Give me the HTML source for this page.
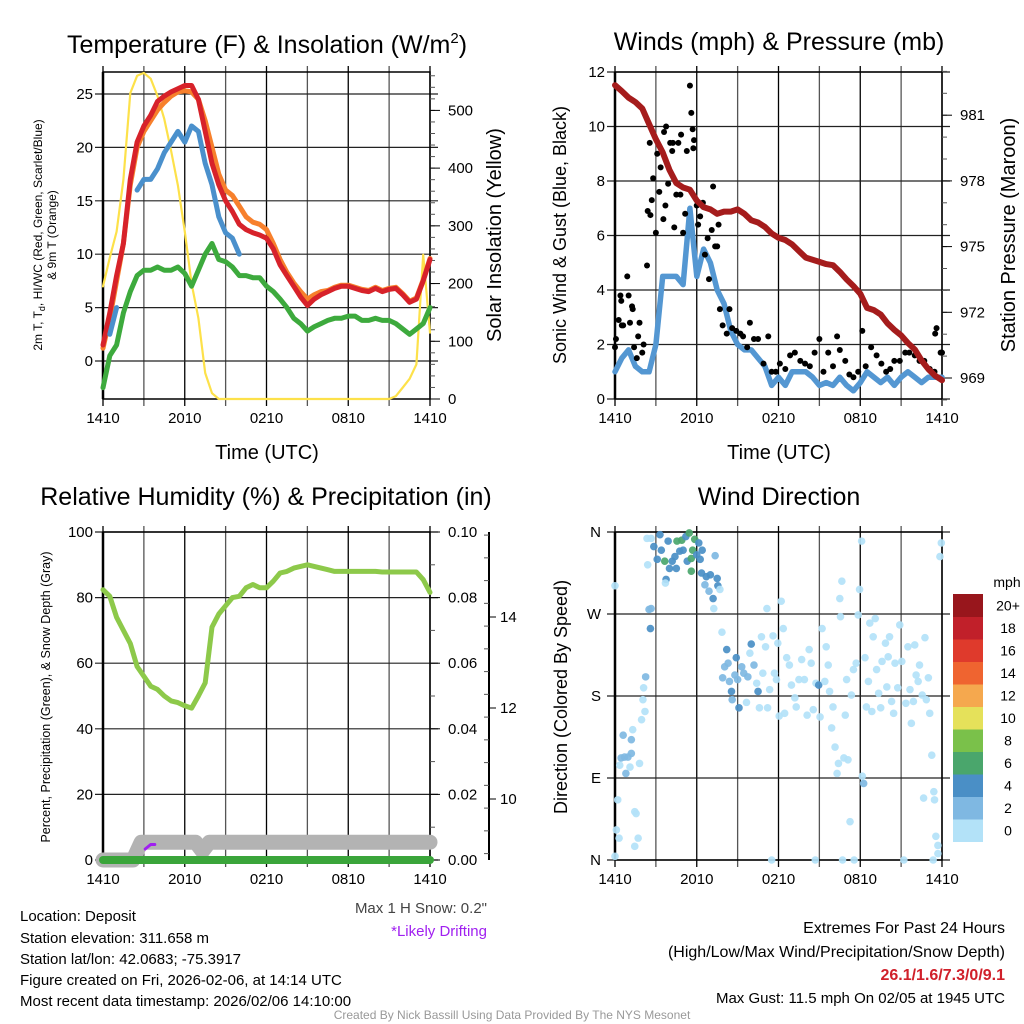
<!DOCTYPE html>
<html><head><meta charset="utf-8">
<style>
html,body{margin:0;padding:0;background:#fff;}
svg{display:block;font-family:"Liberation Sans",sans-serif;}
</style></head>
<body>
<svg id="c" width="1024" height="1024" viewBox="0 0 1024 1024" xmlns="http://www.w3.org/2000/svg">
<rect width="1024" height="1024" fill="#fff"/>
<text x="267" y="53" font-size="25" text-anchor="middle">Temperature (F) &amp; Insolation (W/m<tspan font-size="15" dy="-10">2</tspan><tspan dy="10">)</tspan></text>
<text x="779" y="50" font-size="25" text-anchor="middle">Winds (mph) &amp; Pressure (mb)</text>
<text x="266" y="505" font-size="25" text-anchor="middle">Relative Humidity (%) &amp; Precipitation (in)</text>
<text x="779" y="505" font-size="25" text-anchor="middle">Wind Direction</text>

<text x="267" y="459" font-size="20" text-anchor="middle">Time (UTC)</text>
<text x="779" y="459" font-size="20" text-anchor="middle">Time (UTC)</text>
<text transform="translate(42,235) rotate(-90)" font-size="12" text-anchor="middle"><tspan x="0" dy="0">2m T, T<tspan font-size="9" dy="3">d</tspan><tspan dy="-3">, HI/WC (Red, Green, Scarlet/Blue)</tspan></tspan><tspan x="0" dy="14">&amp; 9m T (Orange)</tspan></text>
<text transform="translate(501,235) rotate(-90)" font-size="20" text-anchor="middle">Solar Insolation (Yellow)</text>
<text transform="translate(566,235) rotate(-90)" font-size="18" text-anchor="middle">Sonic Wind &amp; Gust (Blue, Black)</text>
<text transform="translate(1015,235) rotate(-90)" font-size="20" text-anchor="middle">Station Pressure (Maroon)</text>
<text transform="translate(50,697) rotate(-90)" font-size="12.5" text-anchor="middle">Percent, Precipitation (Green), &amp; Snow Depth (Gray)</text>
<text transform="translate(567,697) rotate(-90)" font-size="18" text-anchor="middle">Direction (Colored By Speed)</text>

<g font-size="15">
<text x="20" y="921">Location: Deposit</text>
<text x="20" y="943">Station elevation: 311.658 m</text>
<text x="20" y="964">Station lat/lon: 42.0683; -75.3917</text>
<text x="20" y="985">Figure created on Fri, 2026-02-06, at 14:14 UTC</text>
<text x="20" y="1006">Most recent data timestamp: 2026/02/06 14:10:00</text>
</g>
<text x="487" y="913" font-size="15" fill="#444" text-anchor="end">Max 1 H Snow: 0.2"</text>
<text x="487" y="936" font-size="15" fill="#a020f0" text-anchor="end">*Likely Drifting</text>
<text x="1005" y="933" font-size="16" text-anchor="end">Extremes For Past 24 Hours</text>
<text x="1005" y="957" font-size="16" text-anchor="end">(High/Low/Max Wind/Precipitation/Snow Depth)</text>
<text x="1005" y="980" font-size="16" font-weight="bold" fill="#d0202a" text-anchor="end">26.1/1.6/7.3/0/9.1</text>
<text x="1005" y="1003" font-size="15" text-anchor="end">Max Gust: 11.5 mph On 02/05 at 1945 UTC</text>
<text x="512" y="1019" font-size="12" fill="#999" text-anchor="middle">Created By Nick Bassill Using Data Provided By The NYS Mesonet</text>
</svg>
<script>
// ---- data (half-hourly, hours 0..24 from 1410 UTC) ----
const xTickLabels = ["1410","2010","0210","0810","1410"];
const tempRed = [1.5,4.5,8,11,17,20.5,22,23,24.3,24.8,25.2,25.5,25.8,25.8,24.5,21.5,18.5,16.5,15,14,12.8,12.3,12,11.8,11.5,10.5,9,8,7,6,5.2,5.8,6.2,6.5,6.8,7,7,6.8,6.6,6.5,6.8,6.5,6.7,6.8,6.2,5.5,5.8,7.5,9.5];
const tempOrange = [1.2,4,7.5,11,16.5,20,21.5,22.5,23.5,24.2,24.8,25.2,25.3,25.2,24.5,22.5,20,17.5,16,15.5,14.5,13.5,13,12.8,12.3,11,9.5,8.3,7.3,6.5,5.8,6.2,6.5,6.6,6.9,7.1,7.1,6.9,6.7,6.6,6.9,6.6,6.8,6.9,6.3,5.6,5.9,7.6,9.6];
const tempBlue = [null,2.5,5,null,null,16,17,17,18,19.5,20.5,21.5,20.5,22,21.5,18.5,16.5,13.5,12,11.5,10,null,null,null,null,null,null,null,null,null,null,null,null,null,null,null,null,null,null,null,null,null,null,null,null,null,null,null,null];
const dewGreen = [-2.5,0.5,1.5,4.5,6.5,8,8.5,8.5,8.8,8.5,8.5,8.8,8.2,7,8.5,10,11,9.5,9.3,8.8,8,8,7.8,7.8,7,6.5,5.8,5,4,3.5,2.8,3.2,3.5,3.8,4,4,4.2,4.2,3.8,3.8,4,3.8,3.8,3.5,3,2.5,3,3.5,5];
const solar = [195,245,290,380,530,560,565,555,525,485,430,370,290,200,140,45,10,0,0,0,0,0,0,0,0,0,0,0,0,0,0,0,0,0,0,0,0,0,0,0,0,0,0,5,20,35,60,250,115];
const pressure = [982.37,982.1,981.8,981.6,981.3,980.6,979.9,979.3,978.5,977.9,977.7,977.6,977.1,976.8,976.7,976.5,976.6,976.6,976.7,976.5,976.2,976.1,975.9,975.6,975.4,975.3,975.1,974.8,974.5,974.4,974.3,974.2,974.15,973.85,973.5,973.2,972.85,972.2,972.1,971.9,971.5,971.2,970.95,970.6,970.3,969.8,969.4,969.1,968.9];
const windSpeed = [1,1.5,1.8,1.2,1,1,2,4.5,4.5,4.5,4.2,7,4.5,5.5,5,4,3.5,2.5,2,1.8,1.8,1.5,1.2,0.5,0.8,0.5,1,1,1,0.8,0.5,0.6,0.5,0.8,0.5,0.3,0.6,1,0.8,0.6,0.8,0.5,0.8,1,0.8,0.6,0.8,0.8,0.8];
const gustHours = [0,0.07,0.27,0.4,0.46,0.5,0.6,0.9,1,1.1,1.25,1.3,1.4,1.6,1.7,1.8,2,2.1,2.35,2.4,2.6,2.55,2.7,2.8,3.0,3.1,3.25,3.35,3.55,3.6,3.75,3.7,3.9,4.05,4.2,4.25,4.35,4.5,4.65,4.8,4.85,5,5.15,5.27,5.5,5.6,5.7,5.8,5.75,6,6.1,6.25,6.45,6.6,6.8,6.9,7.1,7.2,7.35,7.6,7.5,7.7,7.9,8.2,8.4,8.6,8.9,9.2,9.4,9.7,9.9,10.2,10.5,10.9,11.25,11.5,11.8,12.1,12.5,12.85,13.2,13.6,13.95,14.3,14.65,15,15.3,15.65,16,16.3,16.5,16.9,17.2,17.5,17.85,18.15,18.4,18.8,19.2,19.55,19.9,20.2,20.5,20.9,21.3,21.6,22,22.35,22.7,23.1,23.45,23.6,23.5,23.9,24];
const gustValues = [1.9,2.2,2.9,3.8,3.6,2.7,2.7,4.5,3.8,2.8,3.4,3.3,1.9,1.5,2.3,2.8,1.7,2,4.9,6.9,6.75,9.4,7.3,8.1,6.1,9,7.6,8.5,6.6,9.8,10,7.1,7.9,9.4,9.1,9.4,6.3,7.5,9.4,7.5,9.7,6.1,6.8,9.1,11.5,10.5,9.9,9.5,9.2,7.1,6.4,6.7,7.2,5.3,5.9,4.4,6.2,7.8,5.6,6.4,5.6,3.3,2.7,2.4,3.3,2.6,2.5,2.4,2.3,1.9,2.8,2.2,2.2,1.3,2.3,1,1,1.3,1.1,1.6,1.7,1.4,1.3,1.2,1.7,2.2,1,1.7,1.2,2.3,1.8,1.4,0.9,0.8,1,2.5,1.2,1.9,1.6,1.3,1,1.1,1.4,1.4,1.7,1.7,1.6,1.4,1.4,1.1,1,2.6,2.4,1.7,1.7];
const rhHalf = [82.4,80.4,74,70,66,59,56,53,52,50,48.5,48,47,46.3,50,54,71,75,77.5,80,80.4,83,84,83,83,85,87.5,88,89,89.5,90,89.5,89,88.5,88,88,88,88,88,88,88,87.8,87.8,87.8,87.8,87.8,87.8,85.5,81.6];
const precipHours = [0,24];
const precipValues = [0,0];
const snowHours = [0,2.2,2.8,6.8,7.3,7.8,24];
const snowDepth = [8.66,8.66,9.05,9.05,8.85,9.05,9.05];
const driftHours = [3.1,3.5,3.8];
const driftDepth = [8.9,9.0,9.0];
const dirHours = [0,0,0.1,0.2,0.3,0.35,0.45,0.6,0.7,0.8,0.95,1.1,1.2,1.3,1.2,1.45,1.55,1.45,1.7,1.8,1.95,2.05,2.2,2.1,2.25,2.4,2.5,2.65,2.6,2.35,2.65,2.85,3.1,3.3,3.4,3.65,3.75,3.7,3.9,4,4.2,4.4,4.5,4.55,4.75,4.9,5,5.2,5.3,5.45,5.6,5.6,5.7,5.85,6,6.15,6.25,6.4,6.35,6.6,6.7,6.9,7,7.2,7.25,7.35,7.5,7.55,7.7,7.85,7.9,8.05,8.2,8.3,8.4,8.55,8.6,8.8,8.9,9,9.1,9.3,9.45,9.65,9.75,9.9,10,10.2,10.4,10.5,10.6,10.75,10.85,11.05,11.15,11.2,11.35,11.5,11.6,11.7,11.85,11.95,12.05,12.2,12.35,12.45,12.6,12.8,12.95,13.2,13.3,13.5,13.7,13.9,14.1,14.25,14.4,14.55,14.7,14.75,14.95,15.05,15.2,15.4,15.5,15.65,15.75,15.9,16,16.15,16.3,16.4,16.5,16.65,16.55,16.7,16.8,16.9,17,17.1,17.25,17.35,17.5,17.55,17.7,17.85,17.95,18.1,18.15,18.25,18.35,18.45,18.6,18.7,18.85,18.95,19.1,19.2,19.35,19.5,19.6,19.85,19.95,20.05,20.15,20.3,20.45,20.55,20.75,20.9,21.05,21.2,21.35,21.5,21.65,21.75,21.9,22,22.1,22.25,22.35,22.55,22.65,22.75,22.85,23,23.1,23.25,23.35,23.4,23.45,23.55,23.7,23.85,23.95,23.7];
const dirDegrees = [301,4,33,66,24,104,112,137,113,95,113,102,132,143,117,53,51,15,24,106,154,176,163,189,201,324,275,276,254,353,353,344,330,357,340,328,308,304,350,320,328,333,320,350,339,351,340,355,328,359,331,317,340,352,335,348,330,340,315,302,311,295,313,287,276,334,309,301,297,250,200,212,231,216,196,185,176,203,222,198,167,212,205,173,201,227,237,214,194,185,167,245,205,234,276,167,187,0,246,205,198,238,158,284,254,161,222,214,192,178,168,198,220,198,159,231,216,165,0,194,192,157,254,196,234,214,185,145,168,124,95,106,287,306,267,0,112,159,198,110,42,181,209,0,216,269,297,350,92,84,222,168,196,260,163,245,265,209,183,167,218,238,190,223,245,174,161,216,189,258,218,0,172,234,187,150,174,236,203,196,214,181,68,244,176,200,161,115,0,75,66,26,7,333,348,16];
const dirSpeed = [1,1,1,1,1,1,3,3,3,3,3,1,3,1,3,1,1,1,1,1,1,1,1,1,3,1,3,3,4,1,1,4,4,4,4,6,4,1,4,4,4,4,4,6,4,6,4,4,4,6,6,6,6,6,4,4,4,4,4,3,4,3,4,4,1,3,4,4,1,1,3,3,4,3,3,4,3,3,4,3,4,3,3,1,3,1,4,3,1,4,1,1,1,1,1,1,1,1,1,1,1,1,1,1,1,1,1,1,1,1,1,1,1,1,1,1,1,1,1,1,4,1,1,1,1,1,1,1,1,1,1,1,1,1,1,1,1,1,1,1,1,1,1,1,1,1,1,1,1,3,1,1,1,1,1,1,1,1,1,1,1,1,1,1,1,1,1,1,1,1,1,1,1,1,1,1,1,1,1,1,1,1,1,1,1,1,1,1,1,1,1,1,1,1,1,1,1,1,1,1,1];
const speedBins = ["0","2","4","6","8","10","12","14","16","18","20+"];
const binColors = ["#b3e2f8","#7fb8e2","#4a8fc6","#4aa66c","#7ac14a","#e5e15a","#f5a84e","#ef6430","#df3a2c","#c1202a","#98161c"];
const tempTicks = [0,5,10,15,20,25];
const solarTicks = [0,100,200,300,400,500];
const windTicks = [0,2,4,6,8,10,12];
const pressTicks = [969,972,975,978,981];
const rhTicks = [0,20,40,60,80,100];
const precipTicks = [0,0.02,0.04,0.06,0.08,0.10];
const snowTicks = [10,12,14];
const dirTicks = ["N","E","S","W","N"];

const svg = document.getElementById('c');
const NS = 'http://www.w3.org/2000/svg';
function mk(tag, attrs, parent){ const e=document.createElementNS(NS,tag); for(const k in attrs) e.setAttribute(k,attrs[k]); (parent||svg).appendChild(e); return e; }
const halfH = i => i*0.5;

function panel(x0,x1,yTop,yBot,name){
  const g = mk('g',{});
  
  
  return {x0,x1,yTop,yBot,g,xs:h=>x0+h/24*(x1-x0)};
}
function grid(p, hYs, name){
  for(let i=0;i<=8;i++){ const x=p.xs(i*3); const l=mk('line',{x1:x,x2:x,y1:p.yTop-6,y2:p.yBot+7,stroke:i%2?'#555':'#000','stroke-width':1.3},p.g);
      }
  hYs.forEach(y=>{ const l=mk('line',{x1:p.x0-8,x2:p.x1+8,y1:y,y2:y,stroke:'#222','stroke-width':1.2},p.g);
      });
  const f=mk('rect',{x:p.x0,y:p.yTop,width:p.x1-p.x0,height:p.yBot-p.yTop,fill:'none',stroke:'#000','stroke-width':1.5},p.g);
   
  const l2=mk('line',{x1:p.x0,x2:p.x0,y1:p.yTop,y2:p.yBot,stroke:'#000','stroke-width':2.5},p.g);
   
  xTickLabels.forEach((t,i)=>{ const e=mk('text',{x:p.xs(i*6),y:p.yBot+24,'font-size':15,'text-anchor':'middle'},p.g); e.textContent=t;
      });
}
function label(p,x,y,txt,anchor,name,size){
  const e=mk('text',{x:x,y:y+5,'font-size':size||15,'text-anchor':anchor},p.g); e.textContent=txt;
   
}
function poly(p,hs,vs,xs,ys,color,w,name){
  let d='',pen=false;
  vs.forEach((v,i)=>{ if(v===null||v===undefined){pen=false;return;} d+=(pen?'L':'M')+xs(hs(i)).toFixed(1)+','+ys(v).toFixed(1); pen=true; });
  const e=mk('path',{d:d,fill:'none',stroke:color,'stroke-width':w,'stroke-linejoin':'round','stroke-linecap':'round'},p.g);
    return e;
}
function rightMinor(p,x,ys){ ys.forEach(y=>{ mk('line',{x1:x,x2:x+5,y1:y,y2:y,stroke:'#555','stroke-width':1},p.g);}); }

// ---- Panel 1: temperature ----
const p1 = panel(103,430,72,399,'temperature-chart');
const yT = v=>361-v*10.68, yS = v=>399-v*0.5772;
grid(p1, tempTicks.map(yT),'t');
tempTicks.forEach(t=>label(p1,p1.x0-10,yT(t),String(t),'end','temp-tick-label'));
for(let v=0;v<=560;v+=20) rightMinor(p1,p1.x1,[yS(v)]);
solarTicks.forEach(t=>{ mk('line',{x1:p1.x1,x2:p1.x1+10,y1:yS(t),y2:yS(t),stroke:'#000'},p1.g); label(p1,p1.x1+18,yS(t),String(t),'start','solar-tick-label'); });
poly(p1,halfH,solar,p1.xs,yS,'#fde14a',2.2,'solar-line');
poly(p1,halfH,dewGreen,p1.xs,yT,'#3daa3d',5,'dewpoint-line');
poly(p1,halfH,tempOrange,p1.xs,yT,'#f7802c',5,'temp-9m-line');
poly(p1,halfH,tempRed,p1.xs,yT,'#d7222a',5,'temp-2m-line');
poly(p1,halfH,tempBlue,p1.xs,yT,'#4a90cc',5,'heat-index-windchill-line');

// ---- Panel 2: winds ----
const p2 = panel(615,942,72,399,'winds-chart');
const yW = v=>399-v*27.25, yP = v=>378-(v-969)*21.9;
grid(p2, windTicks.map(yW),'w');
windTicks.forEach(t=>label(p2,p2.x0-10,yW(t),String(t),'end','wind-tick-label'));
for(let v=968;v<=983;v+=1) rightMinor(p2,p2.x1,[yP(v)]);
pressTicks.forEach(t=>{ mk('line',{x1:p2.x1,x2:p2.x1+10,y1:yP(t),y2:yP(t),stroke:'#000'},p2.g); label(p2,p2.x1+18,yP(t),String(t),'start','pressure-tick-label'); });
poly(p2,halfH,windSpeed,p2.xs,yW,'#5497d2',5.5,'wind-speed-line');
gustHours.forEach((h,i)=>{ const c=mk('circle',{cx:p2.xs(h),cy:yW(gustValues[i]),r:3,fill:'#000'},p2.g);
    });
poly(p2,halfH,pressure,p2.xs,yP,'#a51c1c',6,'pressure-line');

// ---- Panel 3: humidity ----
const p3 = panel(103,430,532,860,'humidity-chart');
const yH = v=>860-v*3.28, yPr = v=>860-v*3280, ySn = v=>799-(v-10)*45.5;
grid(p3, rhTicks.map(yH),'h');
rhTicks.forEach(t=>label(p3,p3.x0-10,yH(t),String(t),'end','rh-tick-label'));
for(let v=0;v<=0.1001;v+=0.01) rightMinor(p3,p3.x1,[yPr(v)]);
precipTicks.forEach(t=>{ mk('line',{x1:p3.x1,x2:p3.x1+10,y1:yPr(t),y2:yPr(t),stroke:'#000'},p3.g); label(p3,p3.x1+18,yPr(t),t.toFixed(2),'start','precip-tick-label'); });
const sAx=mk('line',{x1:489,x2:489,y1:532,y2:860,stroke:'#000','stroke-width':2},p3.g);
 
for(let v=8.8;v<=15.9;v+=0.5) mk('line',{x1:484,x2:489,y1:ySn(v),y2:ySn(v),stroke:'#555'},p3.g);
snowTicks.forEach(t=>{ mk('line',{x1:489,x2:496,y1:ySn(t),y2:ySn(t),stroke:'#000'},p3.g); label(p3,500,ySn(t),String(t),'start','snow-tick-label'); });
poly(p3,i=>snowHours[i],snowDepth,p3.xs,ySn,'#b3b3b3',15,'snow-depth-line');
poly(p3,i=>precipHours[i],precipValues,p3.xs,yPr,'#3aa53a',8,'precip-line');
poly(p3,i=>driftHours[i],driftDepth,p3.xs,ySn,'#a020f0',3,'drifting-snow-line');
poly(p3,halfH,rhHalf,p3.xs,yH,'#8dc94a',5,'rh-line');

// ---- Panel 4: wind direction ----
const p4 = panel(615,942,532,860,'wind-direction-chart');
const yD = v=>860-v*0.9111;
grid(p4, [0,90,180,270,360].map(yD),'d');
dirTicks.forEach((t,i)=>label(p4,p4.x0-14,yD(i*90),t,'end','direction-tick-label'));
dirHours.forEach((h,i)=>{ const s=dirSpeed[i]; const bi=Math.min(10,Math.floor(s/2));
  const c=mk('circle',{cx:p4.xs(h),cy:yD(dirDegrees[i]),r:3.8,fill:binColors[bi],'fill-opacity':0.92},p4.g);
    });
// colorbar
const cb = mk('g',{});


const cbTop=594, cbH=22.5;
speedBins.forEach((lab,i)=>{ const y=cbTop+(10-i)*cbH;
  const r=mk('rect',{x:953,y:y,width:30,height:cbH+0.5,fill:binColors[i]},cb);
   
  const t=mk('text',{x:1008,y:y+cbH/2+5,'font-size':14,'text-anchor':'middle'},cb); t.textContent=lab;
    });
const mph=mk('text',{x:1007,y:587,'font-size':14,'text-anchor':'middle'},cb); mph.textContent='mph';
 
</script>
</body></html>
